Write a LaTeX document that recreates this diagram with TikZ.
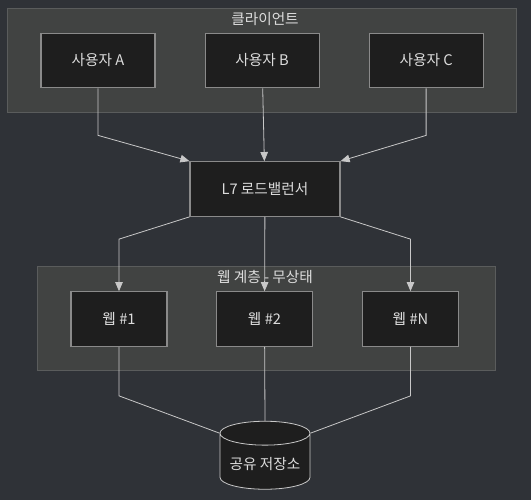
\documentclass[tikz,border=0pt]{standalone}
\usepackage{fontspec}
\newfontfamily\krfont{Noto Sans CJK KR}
\usetikzlibrary{positioning, arrows.meta, calc, shapes.geometric}
\usepackage{xcolor}
\definecolor{bgdark}{HTML}{2F3237}
\definecolor{grpfill}{HTML}{414342}
\definecolor{grpline}{HTML}{5A5C5C}
\definecolor{boxfill}{HTML}{1E1E1E}
\definecolor{boxline}{HTML}{8A8A8A}
\definecolor{txtgray}{HTML}{DCDCDC}
\definecolor{linegray}{HTML}{C8C8C8}

\begin{document}
\begin{tikzpicture}[
  x=0.75pt, y=-0.75pt,
  font=\krfont\fontsize{11}{13}\selectfont, >={Triangle[length=2.4mm, width=2mm]},
  grp/.style={draw=grpline, fill=grpfill, line width=0.6pt, minimum height=78pt},
  box/.style={draw=boxline, fill=boxfill, text=txtgray, line width=0.8pt, minimum height=41pt},
  usr/.style={box, minimum width=85.5pt},
  web/.style={box, minimum width=72pt},
  db/.style={cylinder, shape border rotate=90, aspect=0.3, draw=linegray, fill=boxfill, text=txtgray,
    line width=0.6pt, minimum width=67.5pt, minimum height=51pt},
  conn/.style={draw=linegray, line width=0.6pt},
  lbl/.style={text=txtgray},
]
  \fill[bgdark] (0,0) rectangle (531,500);
  \useasboundingbox (0,0) rectangle (531,500);

  % clients
  \node[grp, minimum width=381.75pt] (cli) at (261.5,60.5) {};
  \node[lbl] (clitxt) at (265,19) {클라이언트};
  \node[usr] (ua) at (98,60.5) {사용자 A};
  \node[usr, right=36.75pt of ua] (ub) {사용자 B};
  \node[usr, right=36.75pt of ub] (uc) {사용자 C};

  % balancer
  \node[box, minimum width=112.5pt] (lb) at (265,189) {L7 로드밸런서};

  % web tier
  \node[grp, minimum width=343.5pt] (tier) at (266,318) {};
  \node[lbl] (tiertxt) at (265,277) {웹 계층 - 무상태};
  \node[web] (w1) at (119,319) {웹 \#1};
  \node[web] (w2) at (264.5,319) {웹 \#2};
  \node[web] (wn) at (410.5,319) {웹 \#N};

  % storage
  \node[db] (st) at (265,464) {공유 저장소};

  \draw[->, conn] (ua.south) -- ++(0,47) -- (lb.north west);
  \draw[->, conn] (ub) -- (lb);
  \draw[->, conn] (uc.south) -- ++(0,47) -- (lb.north east);

  \draw[->, conn] (lb.south west) -- ($(w1.north)+(0,-52)$) -- (w1.north);
  \draw[->, conn] (lb) -- (w2);
  \draw[->, conn] (lb.south east) -- ($(wn.north)+(0,-52)$) -- (wn.north);

  \draw[conn] (w1.south) -- ++(0,49) -- (st.before top);
  \draw[conn] (w2) -- (st.top);
  \draw[conn] (wn.south) -- ++(0,49) -- (st.after top);
\end{tikzpicture}
\end{document}
